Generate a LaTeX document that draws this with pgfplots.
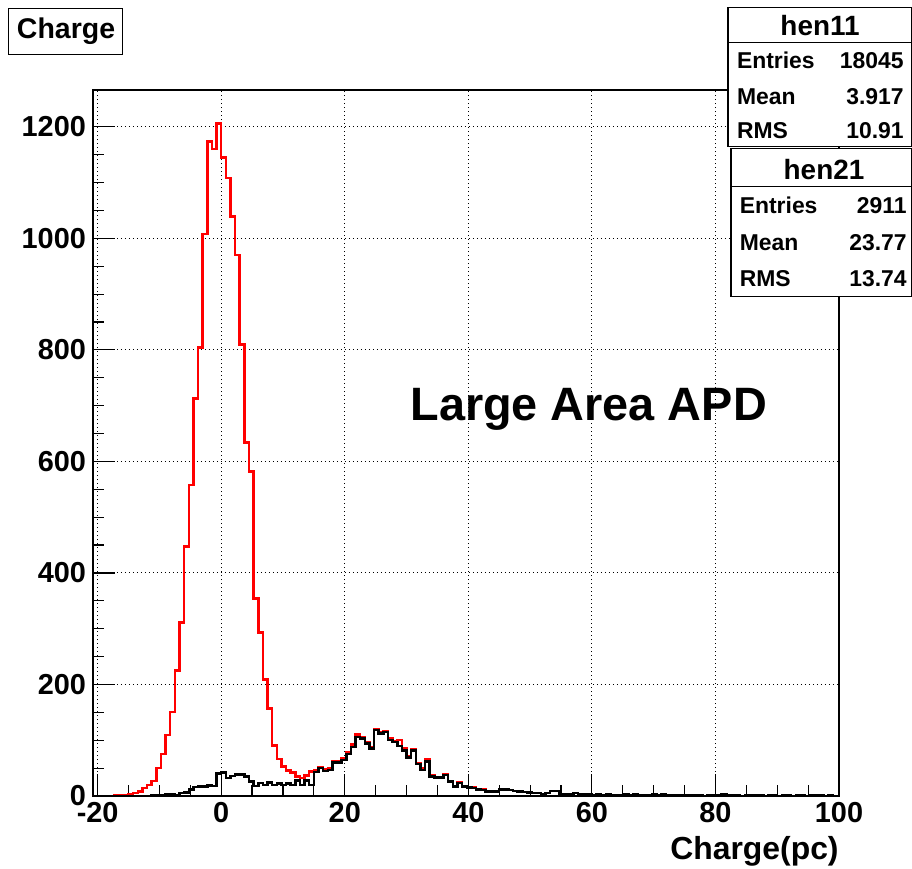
\documentclass[border=0pt]{standalone}
\usepackage{fontspec}
\setmainfont{Liberation Sans}
\usepackage{pgfplots}
\usepackage{pgfplotstable}
\pgfplotsset{compat=1.18}

% bins of 0.75 pc, left edges; red = all events (hen11), black = hen21
\pgfplotstableread{
x      red   black
-21    0     0
-17.25 1     0
-16.5  1     0
-15.75 2     0
-15    3     0
-14.25 5     0
-13.5  8     0
-12.75 14    0
-12    20    0
-11.25 27    1
-10.5  50    1
-9.75  75    2
-9     109   3
-8.25  151   3
-7.5   225   1
-6.75  311   5
-6     447   6
-5.25  558   12
-4.5   713   16
-3.75  804   17
-3     1008  17
-2.25  1174  19
-1.5   1160  18
-0.75  1206  40
0      1145  42
0.75   1108  32
1.5    1039  36
2.25   970   39
3      810   39
3.75   634   35
4.5    582   26
5.25   354   18
6      293   23
6.75   209   20
7.5    157   24
8.25   91    20
9      66    22
9.75   53    20
10.5   46    22
11.25  42    20
12     35    28
12.75  32    20
13.5   37    28
14.25  44    20
15     46    43
15.75  52    50
16.5   48    45
17.25  50    47
18     63    60
18.75  62    60
19.5   68    65
20.25  78    75
21     92    88
21.75  110   106
22.5   106   103
23.25  97    94
24     88    85
24.75  120   118
25.5   114   112
26.25  117   115
27     103   100
27.75  99    97
28.5   100   90
29.25  85    82
30     72    69
30.75  84    82
31.5   59    57
32.25  49    47
33     66    62
33.75  37    35
34.5   34    33
35.25  34    33
36     39    38
36.75  27    26
37.5   18    17
38.25  24    23
39     18    17
39.75  16    15
40.5   15    14
41.25  12    12
42     12    11
42.75  9     8
43.5   8     8
44.25  9     8
45     12    12
45.75  12    12
46.5   11    11
47.25  9     9
48     8     8
48.75  7     7
49.5   6     6
50.25  5     5
51     5     5
51.75  4     4
52.5   5     5
53.25  9     9
54     9     9
54.75  4     4
55.5   4     4
56.25  4     4
57     5     5
57.75  3     3
58.5   4     4
59.25  3     3
60     2     2
60.75  3     3
61.5   2     2
62.25  3     3
63     1     1
63.75  2     2
64.5   2     2
65.25  3     3
66     2     2
66.75  3     3
67.5   1     1
68.25  2     2
69     1     1
69.75  3     3
70.5   2     2
71.25  3     3
72     1     1
72.75  1     1
73.5   2     2
74.25  1     1
75     1     1
75.75  2     2
76.5   1     1
77.25  1     1
78     0     0
78.75  1     1
79.5   1     1
80.25  2     2
81     3     3
81.75  2     2
82.5   1     1
83.25  1     1
84     0     0
84.75  1     1
85.5   2     2
86.25  1     1
87     1     1
87.75  0     0
88.5   1     1
89.25  1     1
90     0     0
90.75  1     1
91.5   1     1
92.25  0     0
93     1     1
93.75  1     1
94.5   0     0
95.25  1     1
96     2     2
96.75  1     1
97.5   0     0
98.25  1     1
99     0     0
99.75  0     0
}\hist

\begin{document}
\begin{tikzpicture}
\path[use as bounding box] (0,0) rectangle (456bp,434.5bp);
\begin{axis}[
    at={(46.5bp,36.5bp)}, anchor=south west,
    scale only axis,
    width=373bp, height=353bp,
    xmin=-20.75, xmax=100,
    ymin=0, ymax=1266,
    xtick={-20,0,20,40,60,80,100},
    xticklabels={-20,0,20,40,60,80,100},
    ytick={0,200,400,600,800,1000,1200},
    yticklabels={0,200,400,600,800,1000,1200},
    minor x tick num=3,
    minor y tick num=3,
    tick align=inside,
    tick pos=left,
    major tick length=11bp,
    minor tick length=5.5bp,
    tick style={black, line width=0.6bp},
    axis line style={line width=0.6bp},
    grid=major,
    grid style={black, line width=0.55bp, dash pattern=on 0.7bp off 1.3bp},
    /pgf/number format/assume math mode=true,
    every tick label/.append style={font=\fontsize{14.5}{16}\selectfont\bfseries},
    xticklabel style={inner sep=3bp},
    xlabel={Charge(pc)},
    xlabel style={at={(axis description cs:1,0)}, anchor=base east,
        yshift=-31.5bp, inner sep=0pt, font=\fontsize{16}{18}\selectfont\bfseries},
]
\addplot[red, line width=1.25bp, const plot] table[x=x, y=red] {\hist};
\addplot[black, line width=1.25bp, const plot] table[x=x, y=black] {\hist};
\end{axis}

% title box
\draw[line width=0.6bp, fill=white] (4.2bp,407.3bp) rectangle (61.2bp,430.3bp);
\node[anchor=base west, inner sep=0pt, font=\fontsize{14.3}{16}\selectfont\bfseries]
    at (8.3bp,415.3bp) {Charge};

% stats boxes
\draw[line width=0.6bp, fill=white] (364bp,361.2bp) rectangle (456bp,430.9bp);
\draw[line width=0.6bp] (364bp,413.4bp) -- (456bp,413.4bp);
\node[anchor=base, inner sep=0pt, font=\fontsize{14}{16}\selectfont\bfseries]
    at (410bp,416.5bp) {hen11};
\begin{scope}[every node/.style={inner sep=0pt, font=\fontsize{11.5}{13}\selectfont\bfseries}]
\node[anchor=base west] at (368.3bp,400.4bp) {Entries};
\node[anchor=base west] at (368.3bp,382bp) {Mean};
\node[anchor=base west] at (368.3bp,365.3bp) {RMS};
\node[anchor=base east] at (452bp,400.4bp) {18045};
\node[anchor=base east] at (452bp,382bp) {3.917};
\node[anchor=base east] at (452bp,365.3bp) {10.91};
\end{scope}

\draw[line width=0.6bp, fill=white] (365.5bp,286.2bp) rectangle (456bp,360.2bp);
\draw[line width=0.6bp] (365.5bp,341.2bp) -- (456bp,341.2bp);
\node[anchor=base, inner sep=0pt, font=\fontsize{14}{16}\selectfont\bfseries]
    at (412bp,344.5bp) {hen21};
\begin{scope}[every node/.style={inner sep=0pt, font=\fontsize{11.5}{13}\selectfont\bfseries}]
\node[anchor=base west] at (369.7bp,327.8bp) {Entries};
\node[anchor=base west] at (369.7bp,309.2bp) {Mean};
\node[anchor=base west] at (369.7bp,291.2bp) {RMS};
\node[anchor=base east] at (453.5bp,327.8bp) {2911};
\node[anchor=base east] at (453.5bp,309.2bp) {23.77};
\node[anchor=base east] at (453.5bp,291.2bp) {13.74};
\end{scope}

% annotation
\node[anchor=base west, inner sep=0pt, font=\fontsize{23.5}{26}\selectfont\bfseries]
    at (205bp,224bp) {Large Area APD};
\end{tikzpicture}
\end{document}
